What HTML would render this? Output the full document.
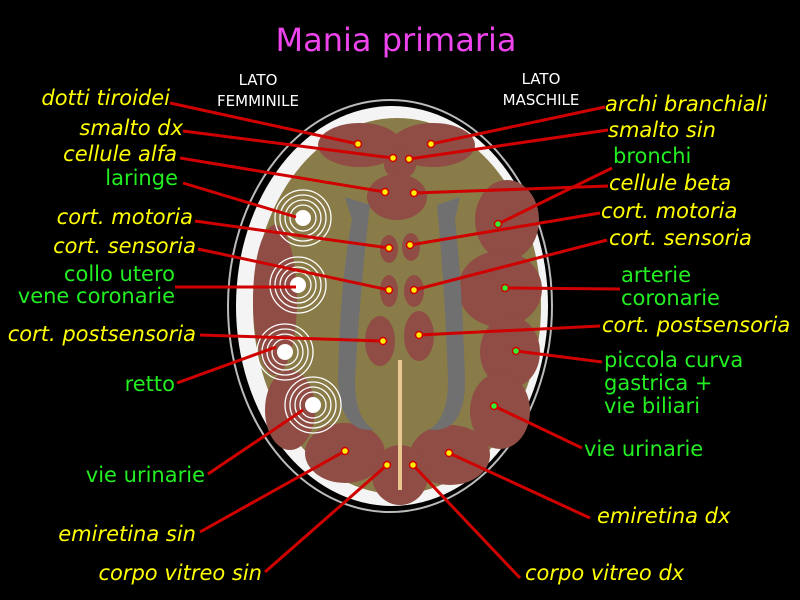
<!DOCTYPE html>
<html><head><meta charset="utf-8"><style>
html,body{margin:0;padding:0;background:#000;width:800px;height:600px;overflow:hidden}
svg{display:block}
.y{fill:#ffff00;font-family:"DejaVu Sans","Liberation Sans",sans-serif;font-style:italic;font-size:21px}
.g{fill:#22ee22;font-family:"DejaVu Sans","Liberation Sans",sans-serif;font-size:21px}
.w{fill:#fff;font-family:"DejaVu Sans","Liberation Sans",sans-serif;font-size:15px}
.l{stroke:#d00000;stroke-width:3}
.d{fill:#ffee00;stroke:#d00000;stroke-width:1.5}
.dg{fill:#33ee33;stroke:#d00000;stroke-width:1.5}
</style></head><body>
<svg width="800" height="600" viewBox="0 0 800 600">
<text x="396" y="51" text-anchor="middle" fill="#ee44ee" font-family="DejaVu Sans,Liberation Sans,sans-serif" font-size="32">Mania primaria</text>
<text class="w" x="258" y="85" text-anchor="middle">LATO</text>
<text class="w" x="258" y="106" text-anchor="middle">FEMMINILE</text>
<text class="w" x="541" y="84" text-anchor="middle">LATO</text>
<text class="w" x="541" y="105" text-anchor="middle">MASCHILE</text>
<ellipse cx="390" cy="306" rx="162" ry="206" fill="none" stroke="#bbb" stroke-width="2"/>
<ellipse cx="392" cy="306" rx="156" ry="200" fill="#f4f4f4"/>
<ellipse cx="397" cy="306" rx="144" ry="188" fill="#8a7c48"/>
<g fill="#8f4d45">
<ellipse cx="360" cy="145" rx="42" ry="22"/>
<ellipse cx="433" cy="145" rx="42" ry="22"/>
<ellipse cx="400" cy="165" rx="16" ry="14"/>
<ellipse cx="397" cy="197" rx="30" ry="23"/>
<ellipse cx="507" cy="220" rx="32" ry="40"/>
<ellipse cx="500" cy="289" rx="42" ry="38"/>
<ellipse cx="510" cy="352" rx="30" ry="36"/>
<ellipse cx="500" cy="411" rx="30" ry="38"/>
<ellipse cx="275" cy="300" rx="22" ry="75"/>
<ellipse cx="290" cy="410" rx="25" ry="40"/>
<ellipse cx="345" cy="453" rx="40" ry="30"/>
<ellipse cx="450" cy="455" rx="40" ry="30"/>
<ellipse cx="400" cy="475" rx="28" ry="30"/>
<ellipse cx="389" cy="249" rx="9" ry="14"/>
<ellipse cx="411" cy="247" rx="9" ry="14"/>
<ellipse cx="389" cy="291" rx="9" ry="16"/>
<ellipse cx="414" cy="291" rx="10" ry="16"/>
<ellipse cx="380" cy="341" rx="15" ry="25"/>
<ellipse cx="419" cy="336" rx="15" ry="25"/>
</g>
<path d="M345,197 L370,205 Q360,290 355,380 Q355,420 375,430 L383,428 Q340,440 338,380 Q340,280 352,220Z" fill="#707070"/>
<path d="M460,197 L437,205 Q445,290 448,380 Q448,420 428,430 L420,428 Q465,440 465,380 Q462,280 455,220Z" fill="#707070"/>
<line x1="400" y1="360" x2="400" y2="490" stroke="#e8c890" stroke-width="4"/>
<g fill="none" stroke="#fff" stroke-width="1.3">
<circle cx="303" cy="218" r="28"/><circle cx="303" cy="218" r="23"/><circle cx="303" cy="218" r="18"/><circle cx="303" cy="218" r="13"/>
<circle cx="298" cy="285" r="28"/><circle cx="298" cy="285" r="23"/><circle cx="298" cy="285" r="18"/><circle cx="298" cy="285" r="13"/>
<circle cx="285" cy="352" r="28"/><circle cx="285" cy="352" r="23"/><circle cx="285" cy="352" r="18"/><circle cx="285" cy="352" r="13"/>
<circle cx="313" cy="405" r="28"/><circle cx="313" cy="405" r="23"/><circle cx="313" cy="405" r="18"/><circle cx="313" cy="405" r="13"/>
</g>
<g fill="#fff"><circle cx="303" cy="218" r="8"/><circle cx="298" cy="285" r="8"/><circle cx="285" cy="352" r="8"/><circle cx="313" cy="405" r="8"/></g>
<g class="l">
<line x1="170" y1="103" x2="358" y2="144"/>
<line x1="183" y1="131" x2="393" y2="158"/>
<line x1="180" y1="158" x2="385" y2="192"/>
<line x1="183" y1="183" x2="296" y2="217"/>
<line x1="195" y1="221" x2="389" y2="248"/>
<line x1="198" y1="249" x2="389" y2="290"/>
<line x1="175" y1="287" x2="296" y2="287"/>
<line x1="200" y1="335" x2="383" y2="341"/>
<line x1="177" y1="383" x2="276" y2="347"/>
<line x1="208" y1="474" x2="303" y2="410"/>
<line x1="200" y1="532" x2="345" y2="451"/>
<line x1="265" y1="572" x2="387" y2="465"/>
<line x1="605" y1="107" x2="431" y2="144"/>
<line x1="608" y1="130" x2="409" y2="159"/>
<line x1="612" y1="168" x2="498" y2="224"/>
<line x1="608" y1="186" x2="414" y2="193"/>
<line x1="600" y1="213" x2="410" y2="245"/>
<line x1="607" y1="240" x2="414" y2="290"/>
<line x1="620" y1="289" x2="505" y2="288"/>
<line x1="600" y1="326" x2="419" y2="335"/>
<line x1="602" y1="362" x2="516" y2="351"/>
<line x1="582" y1="448" x2="494" y2="406"/>
<line x1="590" y1="518" x2="449" y2="453"/>
<line x1="520" y1="578" x2="413" y2="465"/>
</g>
<g class="d">
<circle cx="358" cy="144" r="3.5"/><circle cx="393" cy="158" r="3.5"/><circle cx="385" cy="192" r="3.5"/>
<circle cx="389" cy="248" r="3.5"/><circle cx="389" cy="290" r="3.5"/><circle cx="383" cy="341" r="3.5"/>
<circle cx="345" cy="451" r="3.5"/><circle cx="387" cy="465" r="3.5"/><circle cx="431" cy="144" r="3.5"/>
<circle cx="409" cy="159" r="3.5"/><circle cx="414" cy="193" r="3.5"/><circle cx="410" cy="245" r="3.5"/>
<circle cx="414" cy="290" r="3.5"/><circle cx="419" cy="335" r="3.5"/><circle cx="449" cy="453" r="3.5"/>
<circle cx="413" cy="465" r="3.5"/>
</g>
<g class="dg"><circle cx="498" cy="224" r="3.5"/><circle cx="505" cy="288" r="3.5"/><circle cx="516" cy="351" r="3.5"/><circle cx="494" cy="406" r="3.5"/></g>
<g class="y" text-anchor="end">
<text x="170" y="105">dotti tiroidei</text>
<text x="183" y="135">smalto dx</text>
<text x="177" y="161">cellule alfa</text>
<text x="193" y="224">cort. motoria</text>
<text x="196" y="253">cort. sensoria</text>
<text x="196" y="341">cort. postsensoria</text>
<text x="196" y="541">emiretina sin</text>
<text x="262" y="580">corpo vitreo sin</text>
</g>
<g class="g" text-anchor="end">
<text x="178" y="185">laringe</text>
<text x="175" y="281">collo utero</text>
<text x="175" y="303">vene coronarie</text>
<text x="175" y="391">retto</text>
<text x="205" y="482">vie urinarie</text>
</g>
<g class="y">
<text x="605" y="111">archi branchiali</text>
<text x="608" y="137">smalto sin</text>
<text x="609" y="190">cellule beta</text>
<text x="601" y="218">cort. motoria</text>
<text x="609" y="245">cort. sensoria</text>
<text x="602" y="332">cort. postsensoria</text>
<text x="597" y="523">emiretina dx</text>
<text x="525" y="580">corpo vitreo dx</text>
</g>
<g class="g">
<text x="613" y="163">bronchi</text>
<text x="621" y="282">arterie</text>
<text x="621" y="305">coronarie</text>
<text x="604" y="367">piccola curva</text>
<text x="604" y="390">gastrica +</text>
<text x="604" y="413">vie biliari</text>
<text x="584" y="456">vie urinarie</text>
</g>
</svg>
</body></html>
